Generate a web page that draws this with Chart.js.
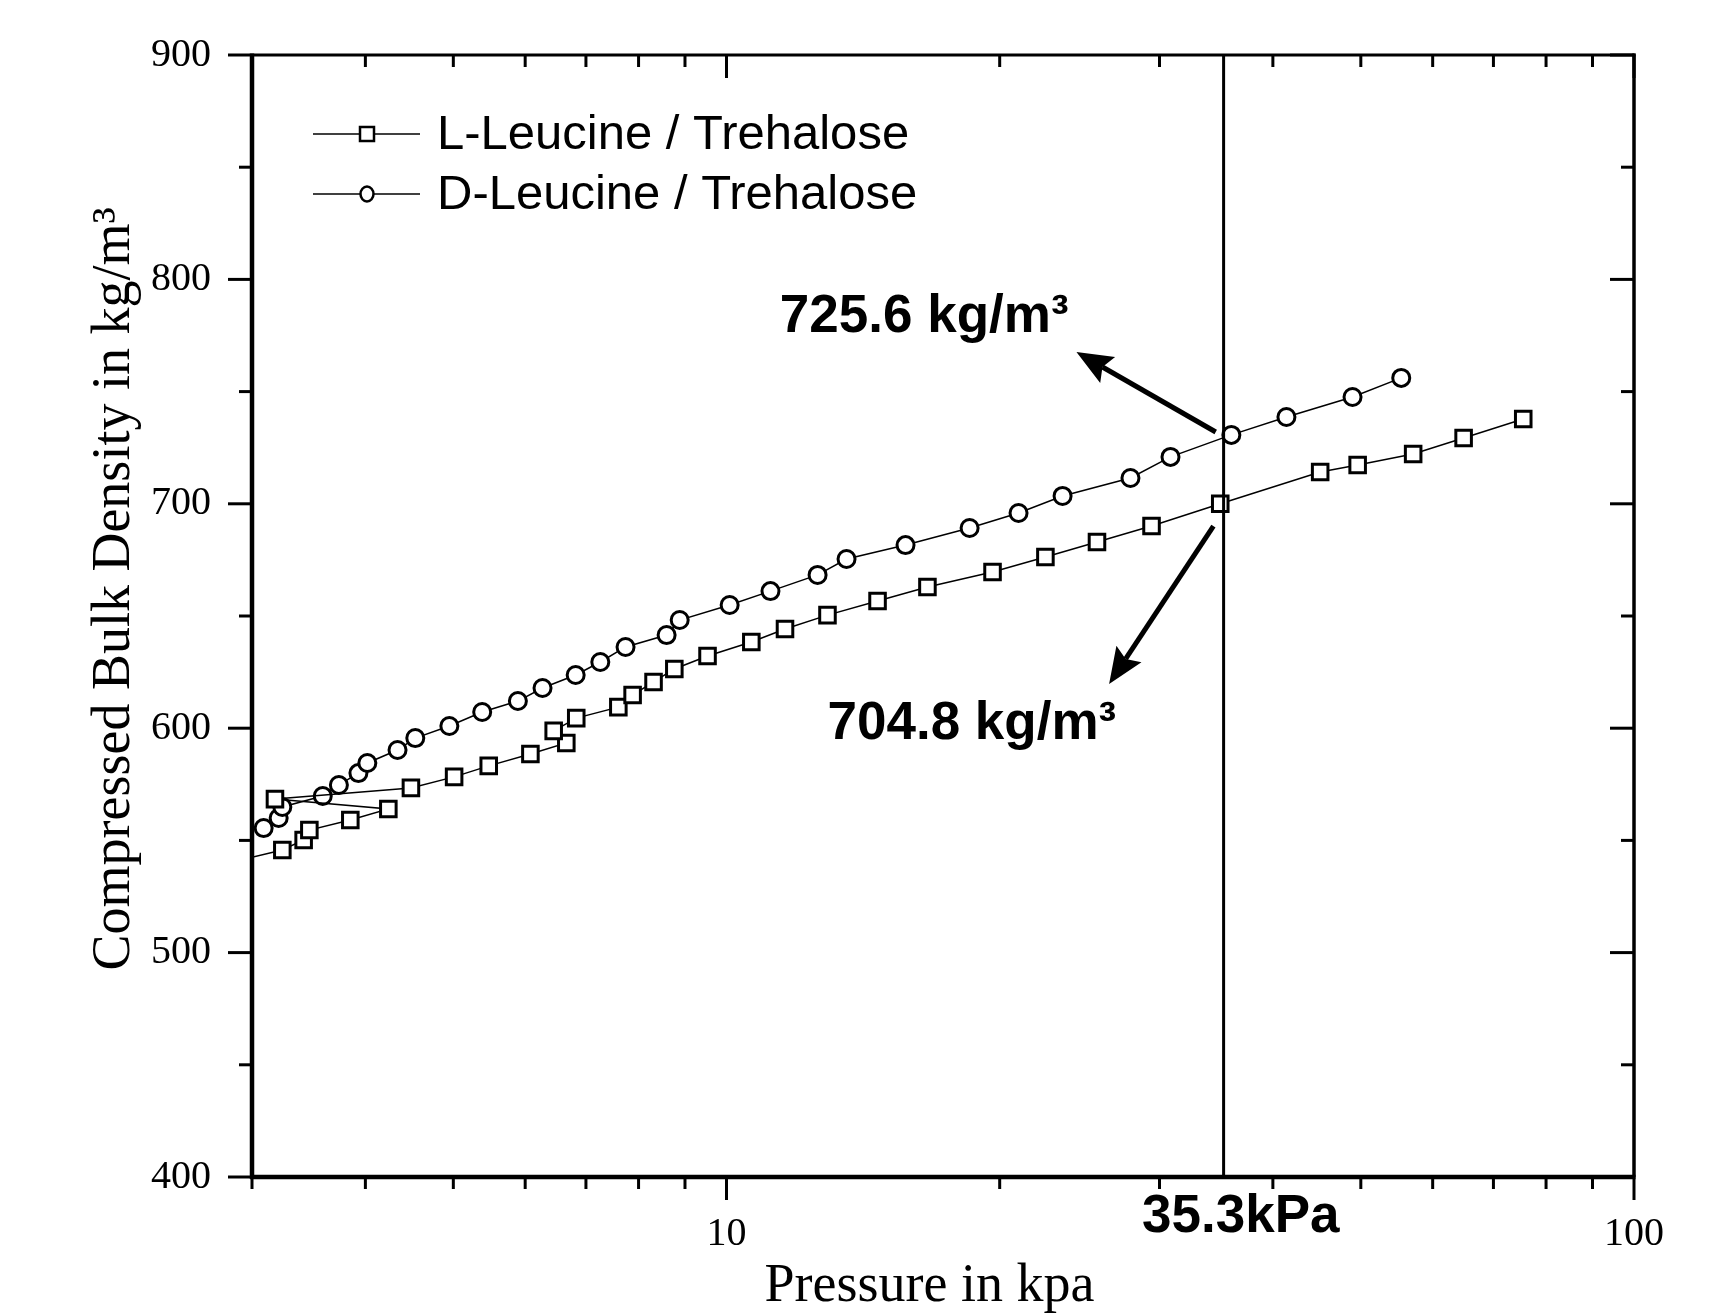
<!DOCTYPE html>
<html>
<head>
<meta charset="utf-8">
<script src="https://cdn.jsdelivr.net/npm/chart.js@4.4.0/dist/chart.umd.min.js"></script>
<style>
  body { margin: 0; background: #fff; }
</style>
</head>
<body>
<canvas id="grafico" width="1725" height="1315"></canvas>
<script>
// L-Leucine / Trehalose (ordem de medida, nao ordenada)
const pressao_l = [2.8, 3.24, 3.42, 3.47, 3.85, 4.24, 3.18, 4.49, 5.01, 5.47, 6.08, 6.66, 6.45, 6.83, 7.6, 7.88, 8.31, 8.76, 9.53, 10.65, 11.6, 12.92, 14.67, 16.65, 19.64, 22.46, 25.6, 29.4, 35, 45.1, 49.6, 57.1, 64.9, 75.5]
const densidade_l = [539.6, 545.7, 550.2, 554.6, 559.1, 564, 568.4, 573.4, 578.3, 583.2, 588.5, 593.4, 598.8, 604.5, 609.4, 614.8, 620.6, 626.4, 632.2, 638.4, 644.2, 650.4, 656.7, 662.9, 669.6, 676.3, 683, 690.1, 700, 714.2, 717.3, 722.2, 729.3, 737.8]

// D-Leucine / Trehalose
const pressao_d = [3.09, 3.21, 3.24, 3.59, 3.74, 3.93, 4.02, 4.34, 4.54, 4.95, 5.38, 5.89, 6.27, 6.82, 7.26, 7.74, 8.59, 8.88, 10.08, 11.18, 12.6, 13.56, 15.75, 18.53, 20.98, 23.46, 27.87, 30.85, 36.0, 41.4, 48.96, 55.4]
const densidade_d = [555.5, 560, 564.9, 569.8, 574.7, 580, 584.5, 590.3, 595.6, 601, 607.2, 612.1, 617.9, 623.7, 629.5, 636.2, 641.5, 648.2, 654.9, 661.1, 668.3, 675.4, 681.6, 689.2, 695.9, 703.5, 711.5, 720.9, 730.7, 738.7, 747.6, 756.1]

const x_maiores = [10, 100]
const x_menores = [3, 4, 5, 6, 7, 8, 9, 20, 30, 40, 50, 60, 70, 80, 90]
const y_maiores = [400, 500, 600, 700, 800, 900]
const y_menores = [450, 550, 650, 750, 850]

const pressao_ref = 35.3
const textos = ['725.6 kg/m\u00b3', '704.8 kg/m\u00b3', '35.3kPa']

function pontos(xs, ys){
    var lista = []
    for(let i = 0; i < xs.length; i++){
        lista.push({x: xs[i], y: ys[i]})
    }
    return lista
}

function linha(ctx, x1, y1, x2, y2, w){
    ctx.beginPath()
    ctx.lineWidth = w
    ctx.moveTo(x1, y1)
    ctx.lineTo(x2, y2)
    ctx.stroke()
}

function seta(ctx, x1, y1, x2, y2){
    const ang = Math.atan2(y2 - y1, x2 - x1)
    const tam = 36
    const larg = 15
    const bx = x2 - tam * Math.cos(ang)
    const by = y2 - tam * Math.sin(ang)
    linha(ctx, x1, y1, bx + 6 * Math.cos(ang), by + 6 * Math.sin(ang), 5)
    ctx.beginPath()
    ctx.moveTo(x2, y2)
    ctx.lineTo(bx + larg * Math.sin(ang), by - larg * Math.cos(ang))
    ctx.lineTo(bx + 6 * Math.cos(ang), by + 6 * Math.sin(ang))
    ctx.lineTo(bx - larg * Math.sin(ang), by + larg * Math.cos(ang))
    ctx.closePath()
    ctx.fill()
}

function monta_ticks(maiores, menores){
    return maiores.concat(menores).sort((a, b) => a - b).map(v => ({value: v, major: maiores.includes(v)}))
}

const moldura = {
    id: 'moldura',
    afterDatasetsDraw(chart){
        const ctx = chart.ctx
        const a = chart.chartArea
        const x = chart.scales.x
        const y = chart.scales.y
        ctx.save()
        ctx.strokeStyle = '#000'
        ctx.fillStyle = '#000'

        const xr = x.getPixelForValue(pressao_ref)
        linha(ctx, xr, a.top, xr, a.bottom, 3)

        x_maiores.concat(x_menores).forEach(v => {
            const px = x.getPixelForValue(v)
            const t = x_maiores.includes(v) ? 23 : 12
            linha(ctx, px, a.bottom, px, a.bottom + t, 3)
            linha(ctx, px, a.top, px, a.top + t, 3)
        })
        y_maiores.concat(y_menores).forEach(v => {
            const py = y.getPixelForValue(v)
            const t = y_maiores.includes(v) ? 24 : 13
            linha(ctx, a.left - t, py, a.left, py, 3)
            linha(ctx, a.right - t, py, a.right, py, 3)
        })

        linha(ctx, a.left, a.top, a.right + 1.5, a.top, 3)
        linha(ctx, a.right, a.top - 1.5, a.right, a.bottom, 3.5)
        linha(ctx, a.left, a.top - 1.5, a.left, a.bottom + 2, 4.5)
        linha(ctx, a.left - 2, a.bottom, a.right + 1.5, a.bottom, 4.5)

        // setas e textos das anotacoes
        seta(ctx, x.getPixelForValue(34.6), y.getPixelForValue(732), x.getPixelForValue(24.3), y.getPixelForValue(767.6))
        seta(ctx, x.getPixelForValue(34.4), y.getPixelForValue(690.1), x.getPixelForValue(26.4), y.getPixelForValue(619.7))

        ctx.font = 'bold 53px "Liberation Sans", Arial, sans-serif'
        ctx.textAlign = 'left'
        ctx.textBaseline = 'alphabetic'
        ctx.fillText(textos[0], x.getPixelForValue(11.45), y.getPixelForValue(776.6))
        ctx.fillText(textos[1], x.getPixelForValue(12.92), y.getPixelForValue(595))
        ctx.fillText(textos[2], x.getPixelForValue(28.7), a.bottom + 55)
        ctx.restore()
    }
}

const legenda = {
    id: 'legenda',
    afterDraw(chart){
        const ctx = chart.ctx
        ctx.save()
        ctx.strokeStyle = '#000'
        chart.data.datasets.forEach((ds, i) => {
            const yy = 134 + i * 60
            linha(ctx, 313, yy, 420, yy, 1.5)
            ctx.fillStyle = '#fff'
            ctx.lineWidth = 2.5
            if(ds.pointStyle === 'rect'){
                ctx.fillRect(360, yy - 7, 14, 14)
                ctx.strokeRect(360, yy - 7, 14, 14)
            } else {
                ctx.beginPath()
                ctx.ellipse(367, yy, 6.5, 7.5, 0, 0, Math.PI * 2)
                ctx.fill()
                ctx.stroke()
            }
            ctx.fillStyle = '#000'
            ctx.font = '49px "Liberation Sans", Arial, sans-serif'
            ctx.textAlign = 'left'
            ctx.textBaseline = 'middle'
            ctx.fillText(ds.label, 437, yy + 1)
        })
        ctx.restore()
    }
}

const ctx = document.getElementById('grafico').getContext('2d')
const grafico = new Chart(ctx, {
    type: 'line',
    data: {
        datasets: [{
            label: 'L-Leucine / Trehalose',
            data: pontos(pressao_l, densidade_l),
            borderColor: '#000',
            borderWidth: 1.5,
            pointStyle: 'rect',
            pointRadius: 11,
            pointBorderWidth: 3,
            pointBorderColor: '#000',
            pointBackgroundColor: '#fff',
            tension: 0
        }, {
            label: 'D-Leucine / Trehalose',
            data: pontos(pressao_d, densidade_d),
            borderColor: '#000',
            borderWidth: 1.5,
            pointStyle: 'circle',
            pointRadius: 8.5,
            pointBorderWidth: 3,
            pointBorderColor: '#000',
            pointBackgroundColor: '#fff',
            tension: 0
        }]
    },
    options: {
        responsive: false,
        animation: false,
        devicePixelRatio: 1,
        layout: { padding: { left: 0, top: 55, right: 91, bottom: 0 } },
        plugins: {
            legend: { display: false },
            tooltip: { enabled: false }
        },
        scales: {
            x: {
                type: 'logarithmic',
                min: 3,
                max: 100,
                grid: { display: false, drawTicks: false },
                border: { display: false },
                afterBuildTicks: function(scale){ scale.ticks = monta_ticks(x_maiores, x_menores) },
                afterFit: function(scale){ scale.height = 138 },
                ticks: {
                    autoSkip: false,
                    maxRotation: 0,
                    padding: 33,
                    color: '#000',
                    font: { family: '"Liberation Serif", "Times New Roman", serif', size: 40 },
                    callback: function(v){ return x_maiores.includes(v) ? String(v) : '' }
                },
                title: {
                    display: true,
                    text: 'Pressure in kpa\u00a0\u00a0',
                    color: '#000',
                    font: { family: '"Liberation Serif", "Times New Roman", serif', size: 54, lineHeight: 1 },
                    padding: { top: 0, bottom: 1 }
                }
            },
            y: {
                min: 400,
                max: 900,
                grid: { display: false, drawTicks: false },
                border: { display: false },
                afterBuildTicks: function(scale){ scale.ticks = monta_ticks(y_maiores, y_menores) },
                afterFit: function(scale){
                    scale.width = 252
                    scale.paddingTop = 0
                    scale.paddingBottom = 0
                },
                ticks: {
                    autoSkip: false,
                    padding: 41,
                    color: '#000',
                    font: { family: '"Liberation Serif", "Times New Roman", serif', size: 40 },
                    callback: function(v){ return y_maiores.includes(v) ? String(v) : '' }
                },
                title: {
                    display: true,
                    text: '\u00a0\u00a0\u00a0\u00a0Compressed Bulk Density in kg/m\u00b3',
                    color: '#000',
                    font: { family: '"Liberation Serif", "Times New Roman", serif', size: 54 },
                    padding: { top: 82, bottom: 0 }
                }
            }
        }
    },
    plugins: [moldura, legenda]
})
</script>
</body>
</html>
